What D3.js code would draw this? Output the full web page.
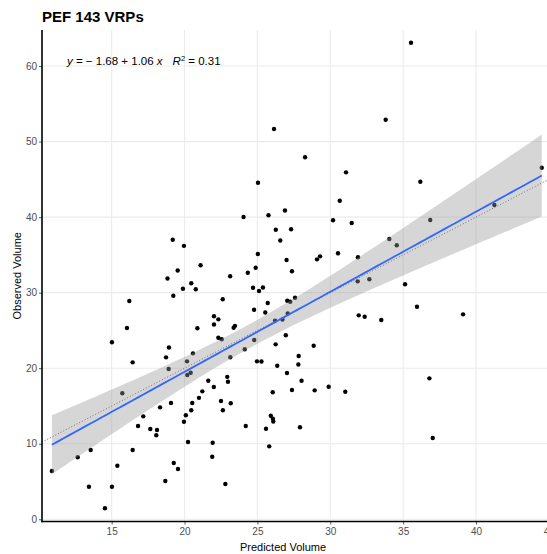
<!DOCTYPE html>
<html>
<head>
<meta charset="utf-8">
<script src="https://cdn.jsdelivr.net/npm/d3@7"></script>
<style>
  html, body { margin: 0; padding: 0; background: #fff; }
  svg { display: block; font-family: "Liberation Sans", Arial, Helvetica, sans-serif; }
</style>
</head>
<body>
<div id="chart"></div>
<script>
// ---------- data ----------
const chartTitle = "PEF 143 VRPs";
const xLabel = "Predicted Volume";
const yLabel = "Observed Volume";
const xTicks = [15, 20, 25, 30, 35, 40, 45];
const yTicks = [0, 10, 20, 30, 40, 50, 60];
const fitIntercept = -1.68;
const fitSlope = 1.06;
const fitR2 = 0.31;

const predicted = [
  10.90, 12.67, 13.44, 13.56, 14.54, 15.02, 15.02, 15.39, 15.73, 16.05,
  16.21, 16.44, 16.44, 16.81, 17.17, 17.65, 18.11, 18.06, 18.32, 18.68,
  18.73, 18.83, 18.93, 18.91, 19.07, 19.19, 19.23, 19.26, 19.53, 19.55,
  19.89, 19.96, 19.96, 20.09, 20.17, 20.19, 20.24, 20.42, 20.46, 20.46,
  20.53, 20.58, 20.77, 20.88, 20.99, 21.10, 21.22, 21.63, 21.93, 21.90,
  22.01, 22.02, 22.02, 22.32, 22.32, 22.55, 22.50, 22.62, 22.63, 22.80,
  22.93, 22.98, 23.13, 23.14, 23.17, 23.37, 23.46, 24.05, 24.13, 24.20,
  24.34, 24.70, 24.77, 24.78, 24.88, 25.03, 25.04, 24.97, 25.11, 25.28,
  25.38, 25.54, 25.59, 25.71, 25.76, 25.81, 25.92, 26.06, 26.09, 26.05,
  26.14, 26.21, 26.26, 26.25, 26.36, 26.57, 26.72, 26.89, 26.95, 27.00,
  27.03, 27.05, 27.08, 27.25, 27.31, 27.37, 27.37, 27.58, 27.83, 27.81,
  27.92, 28.03, 28.27, 28.86, 28.93, 29.09, 29.30, 29.89, 30.19, 30.53,
  30.65, 31.03, 31.08, 31.47, 31.88, 31.90, 31.95, 32.36, 32.68, 33.50,
  33.80, 34.05, 34.56, 35.13, 35.54, 35.95, 36.18, 36.80, 36.86, 37.03,
  39.11, 41.26, 44.51
];
const observed = [
   6.39,  8.21,  4.31,  9.17,  1.46,  4.31, 23.43,  7.09, 16.68, 25.32,
  28.89, 20.78,  9.17, 12.35, 13.63, 11.95, 11.82, 11.12, 14.82,  5.07,
  21.44, 31.87, 22.74, 19.89, 15.39, 37.00, 29.60,  7.45, 32.93,  6.66,
  30.52, 36.20, 12.92, 13.77, 20.91, 19.10, 10.23, 19.40, 31.25, 14.43,
  15.39, 21.97, 30.46, 25.29, 16.08, 33.63, 16.94, 18.35, 10.14,  8.29,
  17.51, 26.87, 25.78, 26.47, 24.04, 23.83, 15.66, 29.12, 14.43,  4.67,
  18.86, 18.21, 32.18, 21.46, 15.37, 25.36, 25.61, 40.01, 22.51, 12.35,
  32.64, 30.66, 27.74, 23.73, 33.30, 35.12, 44.55, 20.91, 30.22, 20.89,
  30.68, 27.37, 11.99, 28.63, 40.25,  9.66, 13.70, 13.32, 12.94, 16.82,
  51.66, 26.29, 38.33, 23.16, 20.33, 36.90, 26.45, 40.87, 24.37, 34.32,
  19.36, 28.93, 27.24, 28.80, 38.39, 32.84, 17.11, 29.33, 21.62, 20.49,
  12.19, 18.35, 47.92, 22.98, 17.07, 34.41, 34.81, 17.55, 39.58, 35.21,
  42.17, 16.89, 45.93, 39.22, 31.50, 34.68, 27.00, 26.82, 31.78, 26.38,
  52.89, 37.10, 36.27, 31.11, 63.08, 28.14, 44.69, 18.66, 39.62, 10.76,
  27.13, 41.60, 46.54
];

// ---------- layout ----------
const W = 547, H = 554;
const panel = { left: 42, right: 547, top: 30, bottom: 521.5 };

const x = d3.scaleLinear().domain([10.22, 44.87]).range([panel.left, panel.right]);
const y = d3.scaleLinear().domain([-0.29, 64.77]).range([panel.bottom, panel.top]);

const svg = d3.select("#chart").append("svg")
  .attr("width", W).attr("height", H);

svg.append("defs").append("clipPath").attr("id", "panelClip")
  .append("rect")
  .attr("x", panel.left).attr("y", panel.top)
  .attr("width", panel.right - panel.left).attr("height", panel.bottom - panel.top);

// gridlines
const grid = svg.append("g");
grid.selectAll("line.gx").data(xTicks.filter(t => x(t) <= panel.right)).enter().append("line")
  .attr("x1", d => x(d)).attr("x2", d => x(d))
  .attr("y1", panel.top).attr("y2", panel.bottom)
  .attr("stroke", "#ebebeb").attr("stroke-width", 1.1);
grid.selectAll("line.gy").data(yTicks).enter().append("line")
  .attr("y1", d => y(d)).attr("y2", d => y(d))
  .attr("x1", panel.left).attr("x2", panel.right)
  .attr("stroke", "#ebebeb").attr("stroke-width", 1.1);

const plot = svg.append("g").attr("clip-path", "url(#panelClip)");

// points
const pts = predicted.map((v, i) => ({ x: v, y: observed[i] }));
plot.selectAll("circle").data(pts).enter().append("circle")
  .attr("cx", d => x(d.x)).attr("cy", d => y(d.y))
  .attr("r", 2.2).attr("fill", "#000");

// 1:1 dotted reference line
const xd = x.domain();
plot.append("line")
  .attr("x1", x(xd[0])).attr("y1", y(xd[0]))
  .attr("x2", x(xd[1])).attr("y2", y(xd[1]))
  .attr("stroke", "#333").attr("stroke-width", 0.8)
  .attr("stroke-dasharray", "1,2");

// confidence band (95%) for the linear fit
const n = pts.length;
const xbar = d3.mean(predicted);
const Sxx = d3.sum(predicted, v => (v - xbar) ** 2);
const sse = d3.sum(pts, d => (d.y - (fitIntercept + fitSlope * d.x)) ** 2);
const s = Math.sqrt(sse / (n - 2));
const tq = 1.977;
const [xmin, xmax] = d3.extent(predicted);
const bandPts = d3.range(0, 81).map(i => {
  const xv = xmin + (xmax - xmin) * i / 80;
  const fit = fitIntercept + fitSlope * xv;
  const h = tq * s * Math.sqrt(1 / n + (xv - xbar) ** 2 / Sxx);
  return { x: xv, lo: fit - h, hi: fit + h, fit };
});
plot.append("path").datum(bandPts)
  .attr("d", d3.area().x(d => x(d.x)).y0(d => y(d.lo)).y1(d => y(d.hi)))
  .attr("fill", "#999999").attr("fill-opacity", 0.4);

plot.append("path").datum(bandPts)
  .attr("d", d3.line().x(d => x(d.x)).y(d => y(d.fit)))
  .attr("fill", "none").attr("stroke", "#3366FF").attr("stroke-width", 1.8);

// axes
const axL = svg.append("g").attr("transform", `translate(${panel.left},0)`)
  .call(d3.axisLeft(y).tickValues(yTicks).tickSize(3).tickPadding(2).tickFormat(d3.format("d")));
const axB = svg.append("g").attr("transform", `translate(0,${panel.bottom})`)
  .call(d3.axisBottom(x).tickValues(xTicks).tickSize(3).tickPadding(3).tickFormat(d3.format("d")));
[axL, axB].forEach(a => {
  a.select(".domain").remove();
  a.selectAll(".tick line").attr("stroke", "#333").attr("stroke-width", 0.8);
  a.selectAll(".tick text").attr("fill", "#4d4d4d").attr("font-size", 10)
    .attr("font-family", "Liberation Sans, Arial, sans-serif");
});
// axis lines
svg.append("line").attr("x1", panel.left).attr("x2", panel.left)
  .attr("y1", panel.top).attr("y2", panel.bottom + 0.8)
  .attr("stroke", "#000").attr("stroke-width", 1.6);
svg.append("line").attr("x1", panel.left - 0.8).attr("x2", panel.right)
  .attr("y1", panel.bottom).attr("y2", panel.bottom)
  .attr("stroke", "#000").attr("stroke-width", 1.6);

// titles
svg.append("text").attr("x", 42).attr("y", 22)
  .attr("font-size", 15).attr("font-weight", "bold").attr("fill", "#000")
  .text(chartTitle);
svg.append("text").attr("x", 283).attr("y", 551)
  .attr("text-anchor", "middle").attr("font-size", 11).attr("fill", "#000")
  .text(xLabel);
svg.append("text").attr("transform", `translate(21,${(panel.top + panel.bottom) / 2}) rotate(-90)`)
  .attr("text-anchor", "middle").attr("font-size", 11).attr("fill", "#000")
  .text(yLabel);

// equation annotation
const eq = svg.append("text").attr("x", 67).attr("y", 65)
  .attr("font-size", 11.5).attr("fill", "#000");
eq.append("tspan").attr("font-style", "italic").text("y");
eq.append("tspan").text(` = \u2212 ${Math.abs(fitIntercept).toFixed(2)} + ${fitSlope.toFixed(2)} `);
eq.append("tspan").attr("font-style", "italic").text("x");
eq.append("tspan").attr("dx", 10).attr("font-style", "italic").text("R");
eq.append("tspan").attr("font-size", 7.5).attr("dy", -4.5).text("2");
eq.append("tspan").attr("dy", 4.5).text(` = ${fitR2.toFixed(2)}`);
</script>
</body>
</html>
